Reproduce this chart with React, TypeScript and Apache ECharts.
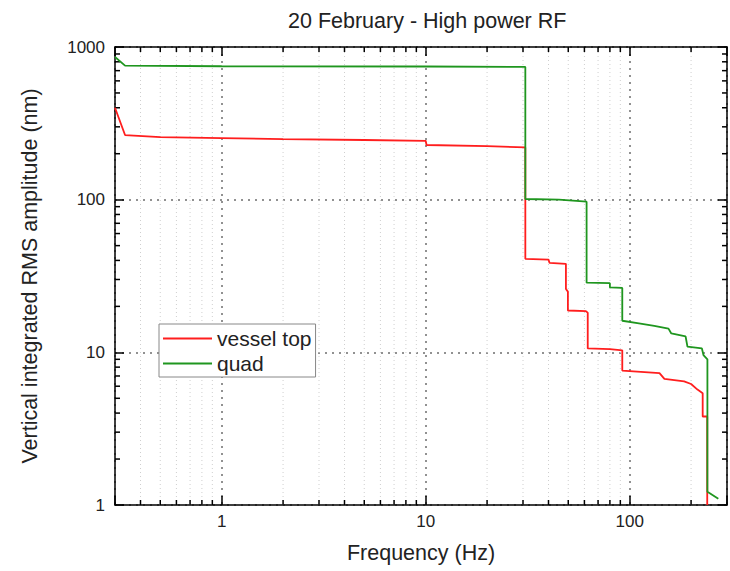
import React, { useEffect, useRef } from 'react';
import * as echarts from 'echarts';

// ---- data ----
const vesselFreq = [0.3, 0.336, 0.5, 1, 2, 5, 10, 10.1, 20, 30.8, 30.8, 40, 40.5, 48.7, 48.7, 49.8, 49.8, 61, 62.3, 62.3, 80, 92, 92, 140, 148, 185, 200, 215, 228, 228, 240, 240];
const vesselAmp = [400, 265, 257, 253, 249, 246, 243, 228, 224, 220, 41, 40.5, 38.5, 38, 26, 25, 18.8, 18.6, 18.2, 10.6, 10.5, 10.3, 7.6, 7.3, 6.7, 6.45, 6.2, 5.7, 5.4, 3.8, 3.8, 1];

const quadFreq = [0.3, 0.336, 1, 10, 30.8, 30.8, 45, 61.5, 61.5, 80, 80, 92, 92, 111, 132, 155, 160, 188, 192, 226, 230, 240.5, 240.5, 272];
const quadAmp = [860, 755, 748, 745, 740, 101, 100, 97, 28.6, 28.4, 26.6, 26.4, 16.1, 15.5, 14.9, 14.3, 13.3, 12.7, 10.9, 10.6, 9.6, 9.0, 1.22, 1.1];

const xMinorTicks = [0.4, 0.5, 0.6, 0.7, 0.8, 0.9, 2, 3, 4, 5, 6, 7, 8, 9, 20, 30, 40, 50, 60, 70, 80, 90, 200];
const yMinorTicks = [2, 3, 4, 5, 6, 7, 8, 9, 20, 30, 40, 50, 60, 70, 80, 90, 200, 300, 400, 500, 600, 700, 800, 900];

const X_MIN = 0.3;
const X_MAX = 300;
const Y_MIN = 1;
const Y_MAX = 1000;

const FONT = '"Liberation Sans", Arial, sans-serif';

const powLabel = (v: number) => {
  const l = Math.log10(v);
  return Math.abs(l - Math.round(l)) < 1e-6 ? String(Math.round(v)) : '';
};

export default function App() {
  const ref = useRef<HTMLDivElement>(null);

  useEffect(() => {
    if (!ref.current) return;
    const chart = echarts.init(ref.current, null, { renderer: 'svg' });

    const minorData: number[][] = [
      ...xMinorTicks.map((v) => [v, 10, 0]),
      ...yMinorTicks.map((v) => [1, v, 1]),
    ];

    const axisLine = { show: true, lineStyle: { color: '#000', width: 1.5 } };
    const axisTick = { show: true, inside: true, length: 9, lineStyle: { color: '#000', width: 1.5 } };
    const majorSplit = { show: true, lineStyle: { color: '#6e6e6e', width: 1.5, type: [2, 5] as any } };

    chart.setOption({
      animation: false,
      backgroundColor: '#fff',
      textStyle: { fontFamily: FONT },
      title: {
        text: '20 February - High power RF',
        left: 283,
        top: 5,
        textStyle: { fontSize: 21.5, fontWeight: 'normal', color: '#222', fontFamily: FONT },
      },
      grid: { left: 115, top: 47, width: 616, height: 458, containLabel: false },
      legend: {
        data: ['vessel top', 'quad'],
        orient: 'vertical',
        left: 159,
        top: 324,
        icon: 'rect',
        itemWidth: 49,
        itemHeight: 2,
        itemGap: 4,
        padding: [4, 4, 3, 4],
        backgroundColor: '#fff',
        borderColor: '#888',
        borderWidth: 1,
        textStyle: { fontSize: 21, color: '#222', fontFamily: FONT },
      },
      xAxis: [
        {
          type: 'log',
          logBase: 10,
          min: X_MIN,
          max: X_MAX,
          position: 'bottom',
          name: 'Frequency (Hz)',
          nameLocation: 'middle',
          nameGap: 37,
          nameTextStyle: { fontSize: 21.5, color: '#222', fontFamily: FONT },
          axisLine,
          axisTick,
          axisLabel: { fontSize: 17, color: '#222', margin: 8, formatter: powLabel, fontFamily: FONT },
          splitLine: majorSplit,
        },
        {
          type: 'log',
          logBase: 10,
          min: X_MIN,
          max: X_MAX,
          position: 'top',
          axisLine,
          axisTick,
          axisLabel: { show: false },
          splitLine: { show: false },
        },
      ],
      yAxis: [
        {
          type: 'log',
          logBase: 10,
          min: Y_MIN,
          max: Y_MAX,
          position: 'left',
          name: 'Vertical integrated RMS amplitude (nm)',
          nameLocation: 'middle',
          nameGap: 74,
          nameTextStyle: { fontSize: 21.5, color: '#222', fontFamily: FONT },
          axisLine,
          axisTick,
          axisLabel: { fontSize: 17, color: '#222', margin: 10, formatter: powLabel, showMinLabel: true, showMaxLabel: true, fontFamily: FONT },
          splitLine: majorSplit,
        },
        {
          type: 'log',
          logBase: 10,
          min: Y_MIN,
          max: Y_MAX,
          position: 'right',
          axisLine,
          axisTick,
          axisLabel: { show: false },
          splitLine: { show: false },
        },
      ],
      series: [
        {
          type: 'custom',
          name: 'minor',
          xAxisIndex: 0,
          yAxisIndex: 0,
          z: 1,
          silent: true,
          data: minorData,
          renderItem: (params: any, api: any) => {
            const kind = api.value(2);
            if (kind === 0) {
              const v = api.value(0);
              const pb = api.coord([v, Y_MIN]);
              const pt = api.coord([v, Y_MAX]);
              return {
                type: 'group',
                children: [
                  { type: 'line', shape: { x1: pb[0], y1: pb[1], x2: pt[0], y2: pt[1] }, style: { stroke: '#cfcfcf', lineWidth: 1, lineDash: [1, 3] } },
                  { type: 'line', shape: { x1: pb[0], y1: pb[1], x2: pb[0], y2: pb[1] - 5 }, style: { stroke: '#000', lineWidth: 1.5 } },
                  { type: 'line', shape: { x1: pt[0], y1: pt[1], x2: pt[0], y2: pt[1] + 5 }, style: { stroke: '#000', lineWidth: 1.5 } },
                ],
              };
            }
            const v = api.value(1);
            const pl = api.coord([X_MIN, v]);
            const pr = api.coord([X_MAX, v]);
            return {
              type: 'group',
              children: [
                { type: 'line', shape: { x1: pl[0], y1: pl[1], x2: pl[0] + 5, y2: pl[1] }, style: { stroke: '#000', lineWidth: 1.5 } },
                { type: 'line', shape: { x1: pr[0], y1: pr[1], x2: pr[0] - 5, y2: pr[1] }, style: { stroke: '#000', lineWidth: 1.5 } },
              ],
            };
          },
        },
        {
          type: 'line',
          name: 'vessel top',
          xAxisIndex: 0,
          yAxisIndex: 0,
          z: 3,
          symbol: 'none',
          showSymbol: false,
          color: '#ff1e1e',
          lineStyle: { color: '#ff1e1e', width: 1.8 },
          data: vesselFreq.map((f, i) => [f, vesselAmp[i]]),
        },
        {
          type: 'line',
          name: 'quad',
          xAxisIndex: 0,
          yAxisIndex: 0,
          z: 3,
          symbol: 'none',
          showSymbol: false,
          color: '#1f961f',
          lineStyle: { color: '#1f961f', width: 1.8 },
          data: quadFreq.map((f, i) => [f, quadAmp[i]]),
        },
      ],
    });

    return () => chart.dispose();
  }, []);

  return <div ref={ref} style={{ position: 'absolute', left: 0, top: 0, width: 730, height: 571 }} />;
}
